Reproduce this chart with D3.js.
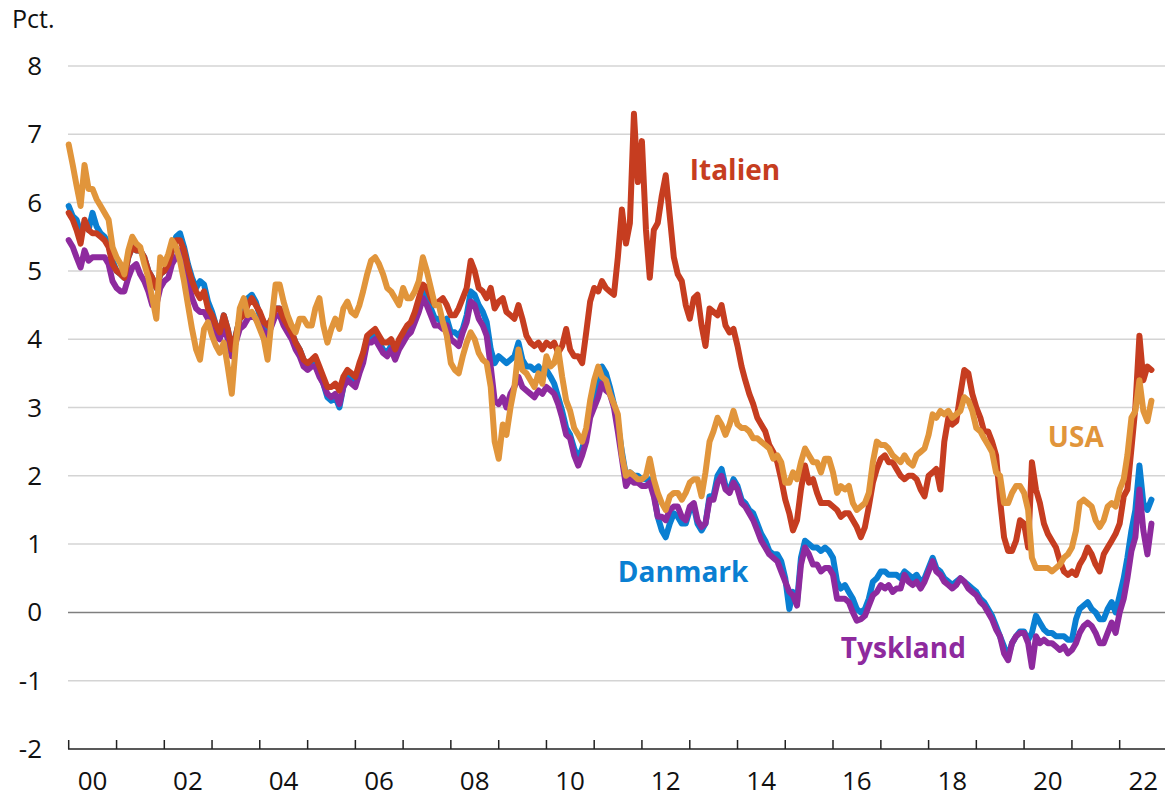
<!DOCTYPE html>
<html>
<head>
<meta charset="utf-8">
<script src="https://cdn.jsdelivr.net/npm/d3@7"></script>
<style>
body { margin: 0; background: #fff; }
</style>
</head>
<body>
<svg id="chart" width="1165" height="798"></svg>
<script>
// monthly values, Jan 2000 - Sep 2022 (pct.)
var startMonth = "2000-01"

var usa = [
	6.85, 6.55, 6.25, 5.95, 6.55, 6.2, 6.2, 6.05, 5.95, 5.85, 5.75, 5.35,
	5.2, 5.1, 4.95, 5.3, 5.5, 5.4, 5.35, 5.1, 4.9, 4.6, 4.3, 5.2,
	5.1, 5.25, 5.45, 5.35, 5.15, 4.85, 4.5, 4.15, 3.85, 3.7, 4.15, 4.25,
	4.05, 3.9, 3.8, 3.95, 3.6, 3.2, 3.9, 4.45, 4.6, 4.35, 4.4, 4.3,
	4.15, 4.0, 3.7, 4.3, 4.8, 4.8, 4.55, 4.35, 4.2, 4.1, 4.3, 4.3,
	4.2, 4.2, 4.45, 4.6, 4.2, 3.95, 4.15, 4.3, 4.15, 4.45, 4.55, 4.4,
	4.35, 4.5, 4.7, 4.95, 5.15, 5.2, 5.1, 4.95, 4.75, 4.7, 4.6, 4.5,
	4.75, 4.6, 4.6, 4.7, 4.85, 5.2, 5.0, 4.75, 4.5, 4.5, 4.25, 4.05,
	3.65, 3.55, 3.5, 3.75, 3.95, 4.1, 4.0, 3.8, 3.7, 3.65, 3.3, 2.5,
	2.25, 2.75, 2.6, 3.0, 3.3, 3.85, 3.55, 3.5, 3.4, 3.3, 3.5, 3.35,
	3.75, 3.6, 3.65, 3.85, 3.45, 3.1, 2.95, 2.7, 2.6, 2.5, 2.7, 3.1,
	3.4, 3.6, 3.45, 3.4, 3.2, 3.05, 2.9, 2.3, 2.0, 2.05, 2.0, 1.95,
	1.95, 2.0, 2.25, 1.95, 1.75, 1.6, 1.5, 1.7, 1.75, 1.75, 1.65, 1.75,
	1.9, 1.95, 1.95, 1.7, 2.05, 2.5, 2.65, 2.85, 2.75, 2.6, 2.75, 2.95,
	2.75, 2.7, 2.7, 2.65, 2.55, 2.55, 2.5, 2.45, 2.4, 2.25, 2.3, 2.2,
	1.9, 1.9, 2.05, 1.95, 2.2, 2.4, 2.3, 2.2, 2.2, 2.05, 2.25, 2.25,
	2.05, 1.75, 1.85, 1.8, 1.85, 1.6, 1.5, 1.55, 1.6, 1.75, 2.2, 2.5,
	2.45, 2.45, 2.4, 2.3, 2.25, 2.2, 2.3, 2.2, 2.15, 2.3, 2.35, 2.4,
	2.6, 2.9, 2.85, 2.95, 2.9, 2.95, 2.85, 2.9, 2.95, 3.15, 3.1, 2.95,
	2.7, 2.65, 2.55, 2.45, 2.35, 2.05, 2.0, 1.6, 1.6, 1.75, 1.85, 1.85,
	1.75, 1.5, 0.8, 0.65, 0.65, 0.65, 0.65, 0.6, 0.65, 0.7, 0.8, 0.85,
	0.95, 1.2, 1.6, 1.65, 1.6, 1.55, 1.35, 1.25, 1.35, 1.55, 1.6, 1.55,
	1.8, 1.95, 2.3, 2.85, 2.95, 3.4, 2.95, 2.8, 3.1
]

var italien = [
	5.85, 5.75, 5.6, 5.4, 5.75, 5.6, 5.55, 5.55, 5.5, 5.45, 5.35, 5.1,
	5.0, 4.95, 4.9, 5.2, 5.35, 5.3, 5.3, 5.2, 5.0, 4.9, 4.75, 4.95,
	5.0, 5.1, 5.3, 5.45, 5.45, 5.3, 5.05, 4.85, 4.7, 4.6, 4.7, 4.45,
	4.35, 4.2, 4.1, 4.35, 4.15, 3.85, 4.05, 4.3, 4.35, 4.5, 4.6, 4.5,
	4.4, 4.25, 4.2, 4.3, 4.45, 4.45, 4.3, 4.2, 4.1, 3.95, 3.85, 3.7,
	3.65, 3.7, 3.75, 3.6, 3.45, 3.3, 3.3, 3.35, 3.25, 3.45, 3.55, 3.5,
	3.45, 3.65, 3.8, 4.05, 4.1, 4.15, 4.05, 3.95, 3.95, 4.0, 3.85, 4.0,
	4.1, 4.2, 4.25, 4.4, 4.6, 4.8, 4.75, 4.6, 4.5, 4.55, 4.6, 4.5,
	4.35, 4.35, 4.45, 4.6, 4.75, 5.15, 5.0, 4.75, 4.7, 4.6, 4.75, 4.45,
	4.55, 4.6, 4.4, 4.35, 4.3, 4.5, 4.3, 4.05, 3.95, 3.9, 3.95, 3.85,
	3.95, 3.9, 3.95, 3.8, 3.9, 4.15, 3.85, 3.75, 3.75, 3.65, 4.1, 4.55,
	4.75, 4.7, 4.85, 4.75, 4.7, 4.65, 5.2, 5.9, 5.4, 5.7, 7.3, 6.3,
	6.9, 5.6, 4.9, 5.6, 5.7, 6.1, 6.4, 5.8, 5.2, 4.95, 4.85, 4.5,
	4.3, 4.6, 4.65, 4.2, 3.9, 4.45, 4.4, 4.35, 4.5, 4.2, 4.1, 4.15,
	3.9, 3.6, 3.4, 3.2, 3.05, 2.85, 2.75, 2.65, 2.45, 2.35, 2.2, 1.95,
	1.65, 1.45, 1.2, 1.35, 1.8, 2.15, 1.9, 1.95, 1.75, 1.6, 1.6, 1.6,
	1.55, 1.5, 1.4, 1.45, 1.45, 1.35, 1.25, 1.1, 1.25, 1.55, 1.9, 2.1,
	2.25, 2.3, 2.2, 2.2, 2.1, 2.0, 1.95, 2.0, 2.0, 1.95, 1.8, 1.7,
	2.0, 2.05, 2.1, 1.8, 2.5, 2.85, 2.75, 2.8, 3.2, 3.55, 3.5, 3.2,
	3.0, 2.85, 2.65, 2.65, 2.5, 2.3, 1.65, 1.1, 0.9, 0.9, 1.05, 1.35,
	1.3, 0.95, 2.2, 1.8, 1.6, 1.3, 1.15, 1.05, 0.95, 0.75, 0.6, 0.55,
	0.6, 0.55, 0.7, 0.8, 0.95, 0.85, 0.7, 0.6, 0.85, 0.95, 1.05, 1.15,
	1.3, 1.7, 1.8, 2.4, 3.0, 4.05, 3.4, 3.6, 3.55
]

var tyskland = [
	5.45, 5.35, 5.2, 5.05, 5.3, 5.15, 5.2, 5.2, 5.2, 5.2, 5.1, 4.85,
	4.75, 4.7, 4.7, 4.9, 5.05, 5.1, 4.95, 4.85, 4.7, 4.5, 4.5, 4.75,
	4.85, 4.9, 5.1, 5.2, 5.3, 5.1, 4.85, 4.6, 4.45, 4.4, 4.4, 4.3,
	4.2, 4.05, 4.0, 4.2, 4.0, 3.75, 3.95, 4.15, 4.2, 4.3, 4.35, 4.3,
	4.2, 4.1, 4.05, 4.2, 4.35, 4.35, 4.2, 4.1, 4.0, 3.85, 3.75, 3.6,
	3.55, 3.6, 3.6, 3.45, 3.35, 3.2, 3.15, 3.2, 3.05, 3.3, 3.4, 3.35,
	3.3, 3.5, 3.65, 3.95, 3.95, 4.0, 3.9, 3.8, 3.75, 3.85, 3.7, 3.85,
	3.95, 4.05, 4.1, 4.25, 4.4, 4.6, 4.5, 4.35, 4.2, 4.2, 4.15, 4.2,
	4.0, 3.95, 3.9, 4.1, 4.25, 4.55, 4.5, 4.3, 4.2, 4.05, 3.6, 3.1,
	3.05, 3.15, 3.0, 3.2, 3.3, 3.45, 3.3, 3.25, 3.2, 3.15, 3.25, 3.2,
	3.3, 3.25, 3.2, 3.05, 2.85, 2.6, 2.55, 2.3, 2.15, 2.3, 2.5, 2.85,
	3.0, 3.15, 3.35, 3.25, 3.2, 3.0, 2.65, 2.25, 1.85, 1.95, 1.9, 1.9,
	1.85, 1.85, 1.9, 1.7, 1.4, 1.4, 1.35, 1.5, 1.55, 1.55, 1.4, 1.35,
	1.55, 1.6, 1.35, 1.25, 1.3, 1.65, 1.65, 1.9, 2.0, 1.8, 1.75, 1.9,
	1.8, 1.6, 1.55, 1.45, 1.35, 1.2, 1.05, 0.95, 0.85, 0.8, 0.75, 0.6,
	0.45, 0.3, 0.25, 0.1, 0.7, 0.95, 0.85, 0.7, 0.7, 0.6, 0.65, 0.65,
	0.55, 0.2, 0.2, 0.2, 0.15, 0.0, -0.12, -0.1, -0.05, 0.1, 0.25, 0.3,
	0.4, 0.35, 0.4, 0.3, 0.35, 0.35, 0.55, 0.45, 0.4, 0.45, 0.35, 0.45,
	0.6, 0.75, 0.6, 0.55, 0.45, 0.4, 0.35, 0.4, 0.5, 0.45, 0.35, 0.3,
	0.25, 0.15, 0.1, 0.0, -0.1, -0.25, -0.35, -0.6, -0.7, -0.45, -0.35, -0.3,
	-0.3, -0.45, -0.8, -0.35, -0.45, -0.4, -0.45, -0.45, -0.5, -0.55, -0.5, -0.6,
	-0.55, -0.45, -0.3, -0.2, -0.15, -0.2, -0.3, -0.45, -0.45, -0.3, -0.15, -0.3,
	0.0, 0.2, 0.5, 0.9, 1.1, 1.8, 1.2, 0.85, 1.3
]

var danmark = [
	5.95, 5.8, 5.75, 5.55, 5.7, 5.6, 5.85, 5.65, 5.55, 5.5, 5.4, 5.15,
	5.0, 4.95, 4.9, 5.2, 5.35, 5.3, 5.3, 5.2, 5.0, 4.9, 4.75, 4.95,
	5.0, 5.1, 5.3, 5.5, 5.55, 5.35, 5.1, 4.9, 4.75, 4.85, 4.8, 4.55,
	4.4, 4.2, 4.1, 4.35, 4.15, 3.85, 4.05, 4.3, 4.4, 4.6, 4.65, 4.55,
	4.35, 4.25, 4.15, 4.3, 4.45, 4.45, 4.3, 4.2, 4.1, 3.95, 3.85, 3.7,
	3.6, 3.65, 3.7, 3.5, 3.35, 3.15, 3.1, 3.15, 3.0, 3.3, 3.45, 3.4,
	3.35, 3.55, 3.7, 4.0, 4.0, 4.05, 3.95, 3.85, 3.8, 3.9, 3.75, 3.9,
	4.0, 4.1, 4.15, 4.3, 4.5, 4.7, 4.6, 4.45, 4.3, 4.3, 4.2, 4.3,
	4.1, 4.1, 4.05, 4.15, 4.35, 4.7, 4.65, 4.5, 4.4, 4.25, 3.85, 3.65,
	3.75, 3.7, 3.65, 3.7, 3.75, 3.95, 3.7, 3.6, 3.6, 3.55, 3.6, 3.5,
	3.55, 3.45, 3.35, 3.15, 2.95, 2.7, 2.6, 2.4, 2.25, 2.4, 2.6, 3.0,
	3.2, 3.3, 3.6, 3.5, 3.3, 3.05, 2.75, 2.35, 2.0, 2.05, 2.0, 2.0,
	1.95, 1.95, 1.95, 1.75, 1.4, 1.2, 1.1, 1.3, 1.45, 1.4, 1.3, 1.3,
	1.5, 1.55, 1.3, 1.2, 1.3, 1.7, 1.7, 2.0, 2.1, 1.85, 1.8, 1.95,
	1.85, 1.65, 1.6, 1.5, 1.45, 1.3, 1.15, 1.05, 0.9, 0.85, 0.85, 0.75,
	0.5, 0.05, 0.3, 0.15, 0.8, 1.05, 1.0, 0.95, 0.95, 0.9, 0.95, 0.9,
	0.8, 0.45, 0.35, 0.4, 0.3, 0.2, 0.05, 0.0, 0.05, 0.2, 0.45, 0.5,
	0.6, 0.6, 0.55, 0.55, 0.55, 0.5, 0.6, 0.55, 0.5, 0.55, 0.45, 0.5,
	0.65, 0.8, 0.65, 0.6, 0.5, 0.45, 0.4, 0.45, 0.5, 0.45, 0.4, 0.35,
	0.3, 0.2, 0.15, 0.05, -0.05, -0.2, -0.35, -0.5, -0.65, -0.45, -0.35, -0.28,
	-0.28, -0.4, -0.3, -0.05, -0.15, -0.25, -0.3, -0.3, -0.35, -0.35, -0.35, -0.4,
	-0.4, -0.1, 0.05, 0.1, 0.15, 0.05, 0.0, -0.1, -0.1, 0.05, 0.15, 0.0,
	0.25, 0.5, 0.8, 1.2, 1.5, 2.15, 1.6, 1.5, 1.65
]

var yTicks = [-2, -1, 0, 1, 2, 3, 4, 5, 6, 7, 8]
var yearTicks = d3.range(2000, 2023)
var yearLabels = ["00", "02", "04", "06", "08", "10", "12", "14", "16", "18", "20", "22"]

var cBlue = "#0a7fd2"
var cPurple = "#8e2a9e"
var cRed = "#c63d20"
var cOrange = "#e1953b"

// drawn in this order: blue at the bottom, orange on top
var series = [
	{"name": "Danmark",  "values": danmark,  "color": cBlue,   "lx": "2011-07", "ly": 0.44},
	{"name": "Tyskland", "values": tyskland, "color": cPurple, "lx": "2016-03", "ly": -0.67},
	{"name": "Italien",  "values": italien,  "color": cRed,    "lx": "2013-01", "ly": 6.33},
	{"name": "USA",      "values": usa,      "color": cOrange, "lx": "2020-07", "ly": 2.42}
]

var svg = d3.select("#chart")
var font = "'Open Sans', 'Noto Sans', sans-serif"

var parseMonth = d3.timeParse("%Y-%m")
var start = parseMonth(startMonth)

var x = d3.scaleTime()
	.domain([new Date(2000, 0, 1), new Date(2023, 0, 1)])
	.range([68.7, 68.7 + 23 * 47.77])

var y = d3.scaleLinear()
	.domain([-2, 8])
	.range([749, 66])

// gridlines
svg.selectAll(".grid")
	.data(yTicks.filter(function(d) { return d > -2 }))
	.enter()
	.append("line")
	.attr("class", "grid")
	.attr("x1", 68)
	.attr("x2", 1165)
	.attr("y1", function(d) { return y(d) })
	.attr("y2", function(d) { return y(d) })
	.attr("stroke", function(d) { return d === 0 ? "#7f7f7f" : "#d4d4d4" })
	.attr("stroke-width", 1.5)

// y labels
svg.selectAll(".ylab")
	.data(yTicks)
	.enter()
	.append("text")
	.attr("class", "ylab")
	.text(function(d) { return d })
	.attr("x", 42)
	.attr("y", function(d) { return y(d) + 9 })
	.attr("text-anchor", "end")
	.attr("font-family", font)
	.attr("font-size", "26px")
	.attr("fill", "#111")

svg.append("text")
	.text("Pct.")
	.attr("x", 12)
	.attr("y", 28)
	.attr("font-family", font)
	.attr("font-size", "25px")
	.attr("fill", "#111")

// x axis line and year ticks
svg.append("line")
	.attr("x1", 68)
	.attr("x2", 1165)
	.attr("y1", y(-2))
	.attr("y2", y(-2))
	.attr("stroke", "#222")
	.attr("stroke-width", 1.5)

svg.selectAll(".xtick")
	.data(yearTicks)
	.enter()
	.append("line")
	.attr("class", "xtick")
	.attr("x1", function(d) { return x(new Date(d, 0, 1)) })
	.attr("x2", function(d) { return x(new Date(d, 0, 1)) })
	.attr("y1", y(-2))
	.attr("y2", y(-2) - 9)
	.attr("stroke", "#222")
	.attr("stroke-width", 1.5)

svg.selectAll(".xlab")
	.data(yearLabels)
	.enter()
	.append("text")
	.attr("class", "xlab")
	.text(function(d) { return d })
	.attr("x", function(d) { return x(new Date(2000 + (+d), 6, 1)) })
	.attr("y", 790)
	.attr("text-anchor", "middle")
	.attr("font-family", font)
	.attr("font-size", "26px")
	.attr("fill", "#111")

// the lines
var line = d3.line()
	.x(function(d, i) { return x(d3.timeMonth.offset(start, i)) })
	.y(function(d) { return y(d) })

svg.selectAll(".series")
	.data(series)
	.enter()
	.append("path")
	.attr("class", "series")
	.attr("d", function(d) { return line(d.values) })
	.attr("fill", "none")
	.attr("stroke", function(d) { return d.color })
	.attr("stroke-width", 6)
	.attr("stroke-linejoin", "round")
	.attr("stroke-linecap", "round")

// series names
svg.selectAll(".name")
	.data(series)
	.enter()
	.append("text")
	.attr("class", "name")
	.text(function(d) { return d.name })
	.attr("x", function(d) { return x(parseMonth(d.lx)) })
	.attr("y", function(d) { return y(d.ly) })
	.attr("font-family", font)
	.attr("font-size", "28px")
	.attr("font-weight", "bold")
	.attr("fill", function(d) { return d.color })
</script>
</body>
</html>
